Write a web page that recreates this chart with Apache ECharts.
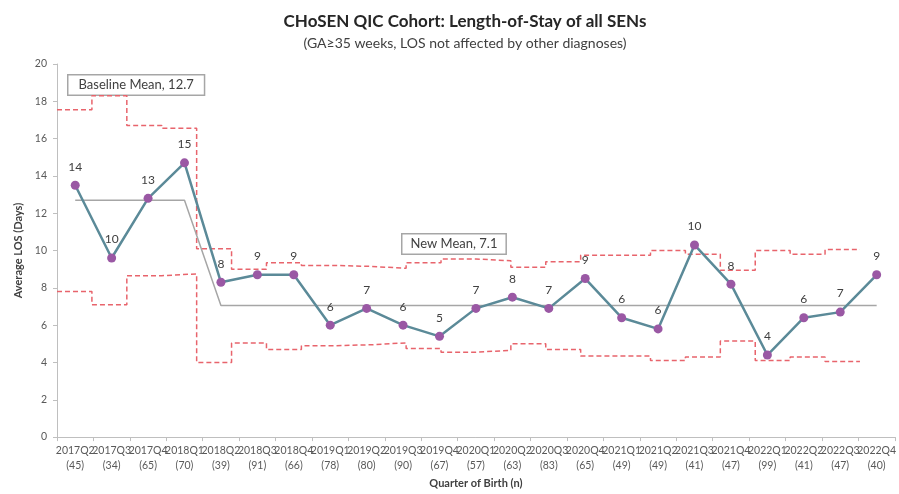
<!DOCTYPE html>
<html>
<head>
<meta charset="utf-8">
<script src="https://cdn.jsdelivr.net/npm/echarts@6/dist/echarts.min.js"></script>
<style>
  html, body { margin: 0; padding: 0; background: #fff; }
  #chart { width: 899px; height: 494px; }
</style>
</head>
<body>
<div id="chart"></div>
<script>
// quarter of birth and number of babies in each
const quarters = ['2017Q2', '2017Q3', '2017Q4', '2018Q1', '2018Q2', '2018Q3', '2018Q4', '2019Q1',
  '2019Q2', '2019Q3', '2019Q4', '2020Q1', '2020Q2', '2020Q3', '2020Q4', '2021Q1', '2021Q2',
  '2021Q3', '2021Q4', '2022Q1', '2022Q2', '2022Q3', '2022Q4']
const counts = [45, 34, 65, 70, 39, 91, 66, 78, 80, 90, 67, 57, 63, 83, 65, 49, 49, 41, 47, 99, 41, 47, 40]

// average length of stay (days)
const los = [13.5, 9.6, 12.8, 14.7, 8.3, 8.7, 8.7, 6.0, 6.9, 6.0, 5.4, 6.9, 7.5, 6.9, 8.5, 6.4, 5.8, 10.3, 8.2, 4.4, 6.4, 6.7, 8.7]
// centre line: baseline mean then new mean
const centre = [12.7, 12.7, 12.7, 12.7, 7.05, 7.05, 7.05, 7.05, 7.05, 7.05, 7.05, 7.05, 7.05, 7.05, 7.05,
  7.05, 7.05, 7.05, 7.05, 7.05, 7.05, 7.05, 7.05]
// control limits
const ucl = [17.55, 18.3, 16.7, 16.55, 10.1, 9.0, 9.35, 9.2, 9.15, 9.05, 9.35, 9.55, 9.45, 9.1, 9.4, 9.75, 9.75, 10.0, 9.8, 8.95, 10.0, 9.8, 10.05]
const lcl = [7.8, 7.1, 8.65, 8.75, 4.0, 5.05, 4.7, 4.9, 4.95, 5.05, 4.75, 4.55, 4.65, 5.0, 4.7, 4.35, 4.35, 4.1, 4.3, 5.15, 4.1, 4.3, 4.05]

const FONT = 'Lato'
const labels = quarters.map((q, i) => q + '\n(' + counts[i] + ')')

// limits are drawn as steps, one step per quarter (excel puts them on its own axis)
function steps(arr) {
  const pts = arr.map((v, i) => [i, v])
  pts.push([arr.length, arr[arr.length - 1]])
  return pts
}

const chart = echarts.init(document.getElementById('chart'))
chart.setOption({
  animation: false,
  textStyle: { fontFamily: FONT },
  title: {
    text: 'CHoSEN QIC Cohort: Length-of-Stay of all SENs',
    subtext: '(GA\u226535 weeks, LOS not affected by other diagnoses)',
    left: 460,
    top: 8,
    textAlign: 'center',
    itemGap: 6,
    textStyle: { fontFamily: FONT, fontSize: 17, fontWeight: 'bold', color: '#262626' },
    subtextStyle: { fontFamily: FONT, fontSize: 14, color: '#404040' }
  },
  grid: { left: 57, right: 0, top: 64, bottom: 54 },
  xAxis: [{
    type: 'category',
    data: labels,
    boundaryGap: true,
    name: 'Quarter of Birth (n)',
    nameLocation: 'middle',
    nameGap: 38,
    nameTextStyle: { fontFamily: FONT, fontSize: 11, fontWeight: 'bold', color: '#404040' },
    axisLine: { lineStyle: { color: '#bfbfbf', width: 1 } },
    axisTick: { show: true, length: 4, lineStyle: { color: '#bfbfbf' } },
    axisLabel: { interval: 0, fontSize: 10.5, color: '#595959', lineHeight: 15, margin: 6 }
  }, {
    type: 'value',
    min: 0,
    max: 24,
    show: false
  }],
  yAxis: {
    type: 'value',
    min: 0,
    max: 20,
    interval: 2,
    name: 'Average LOS (Days)',
    nameLocation: 'middle',
    nameGap: 23,
    nameTextStyle: { fontFamily: FONT, fontSize: 11, fontWeight: 'bold', color: '#404040' },
    axisLine: { show: true, lineStyle: { color: '#bfbfbf' } },
    axisTick: { show: true, length: 4, lineStyle: { color: '#bfbfbf' } },
    axisLabel: { fontSize: 10.5, color: '#595959', margin: 10 },
    splitLine: { show: false }
  },
  series: [
    {
      name: 'UCL',
      type: 'line',
      xAxisIndex: 1,
      step: 'end',
      data: steps(ucl),
      symbol: 'none',
      lineStyle: { color: '#e8646c', width: 1.5, type: [5, 3] },
      z: 1
    },
    {
      name: 'LCL',
      type: 'line',
      xAxisIndex: 1,
      step: 'end',
      data: steps(lcl),
      symbol: 'none',
      lineStyle: { color: '#e8646c', width: 1.5, type: [5, 3] },
      z: 1
    },
    {
      name: 'Mean',
      type: 'line',
      data: centre,
      symbol: 'none',
      lineStyle: { color: '#a6a6a6', width: 1.5 },
      z: 2
    },
    {
      name: 'LOS',
      type: 'line',
      data: los,
      symbol: 'circle',
      symbolSize: 9,
      lineStyle: { color: '#5b8a98', width: 2.5 },
      itemStyle: { color: '#9a58a4' },
      label: {
        show: true,
        position: 'top',
        distance: 8,
        fontSize: 12,
        color: '#404040',
        formatter: p => Math.round(p.value)
      },
      z: 3
    }
  ],
  graphic: [
    {
      type: 'text',
      left: 67,
      top: 74,
      style: {
        text: 'Baseline Mean, 12.7',
        font: '13px Lato',
        fill: '#404040',
        backgroundColor: '#fff',
        borderColor: '#a6a6a6',
        borderWidth: 1.5,
        padding: [3, 10, 3, 10]
      }
    },
    {
      type: 'text',
      left: 401,
      top: 233,
      style: {
        text: 'New Mean, 7.1',
        font: '13px Lato',
        fill: '#404040',
        backgroundColor: '#fff',
        borderColor: '#a6a6a6',
        borderWidth: 1.5,
        padding: [3, 8, 3, 8]
      }
    }
  ]
})
</script>
</body>
</html>
